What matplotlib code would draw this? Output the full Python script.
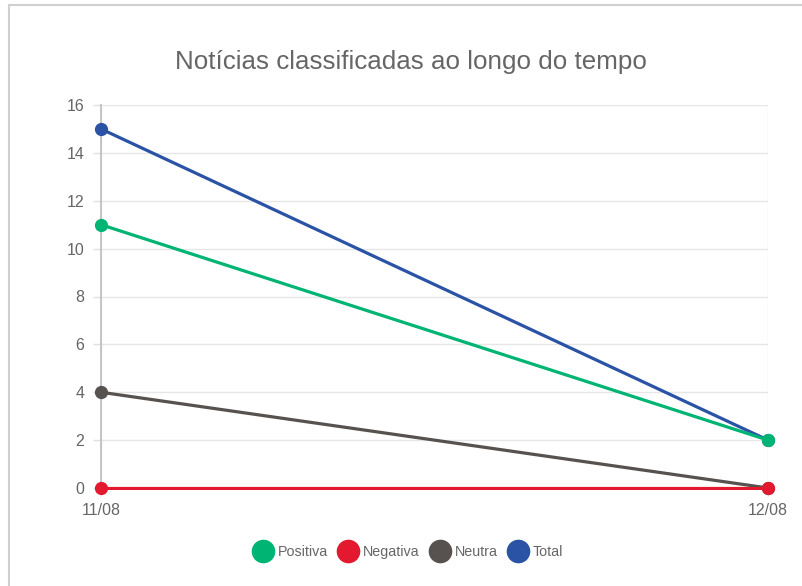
import matplotlib
matplotlib.use("Agg")
import matplotlib.pyplot as plt
from matplotlib.lines import Line2D
from matplotlib.patches import Rectangle

plt.rcParams['font.family'] = ['Liberation Sans', 'DejaVu Sans']

dates = ["11/08", "12/08"]
positiva = [11, 2]
negativa = [0, 0]
neutra = [4, 0]
total = [15, 2]
series_names = ["Positiva", "Negativa", "Neutra", "Total"]
y_ticks = [0, 2, 4, 6, 8, 10, 12, 14, 16]

colors = ["#00B474", "#E3192F", "#57524F", "#2A52A5"]
series = [positiva, negativa, neutra, total]

fig = plt.figure(figsize=(8.03, 5.86), dpi=100)
fig.patch.set_facecolor("white")
fig.patches.append(Rectangle((9/803, -0.01), 1.02, 1 - 5/586 + 0.01, transform=fig.transFigure,
                             fill=False, edgecolor="#D0D0D0", linewidth=1.5))

ax = fig.add_axes([101/803, 1 - 488/586, (768 - 101)/803, (488 - 105)/586])
clip_rect = Rectangle((0, -0.004), 1, 1.02, transform=ax.transAxes, visible=False)
ax.add_patch(clip_rect)
x = list(range(len(dates)))
n = len(series)
for i, (data, c) in enumerate(zip(series, colors)):
    z = 10 + (n - i)  # first dataset on top
    ln, = ax.plot(x, data, color=c, linewidth=2.3, zorder=z)
    ln.set_clip_path(clip_rect)
    ax.plot(x, data, color=c, linestyle="none", marker="o", markersize=8.5,
            clip_on=False, zorder=z + 0.5)

ax.set_xlim(0, len(dates) - 1)
ax.set_ylim(0, 16)
ax.set_yticks(y_ticks)
ax.set_xticks(x)
ax.set_xticklabels(dates)
ax.grid(True, color="#E6E6E6", linewidth=1)
for s in ax.spines.values():
    s.set_visible(False)
ax.axvline(0, color="#C4C4C4", linewidth=1.4, zorder=2, clip_on=False)
ax.tick_params(axis="both", colors="#E0E0E0", labelcolor="#666666", labelsize=11.5,
               length=6, width=1)
ax.tick_params(axis="x", pad=5)
ax.tick_params(axis="y", pad=6)

fig.text(411/803, 1 - 62/586, "Notícias classificadas ao longo do tempo",
         ha="center", va="center", fontsize=18.7, color="#666666")

handles = [Line2D([], [], marker="o", linestyle="none", markersize=16,
                  markerfacecolor=c, markeredgecolor=c) for c in colors]
fig.legend(handles, series_names, loc="center", bbox_to_anchor=(408/803, 1 - 552/586),
           ncol=4, frameon=False, fontsize=10.3, handletextpad=0.3, columnspacing=0.75,
           labelcolor="#666666", handlelength=1.4)

fig.savefig("out.png", dpi=100)
